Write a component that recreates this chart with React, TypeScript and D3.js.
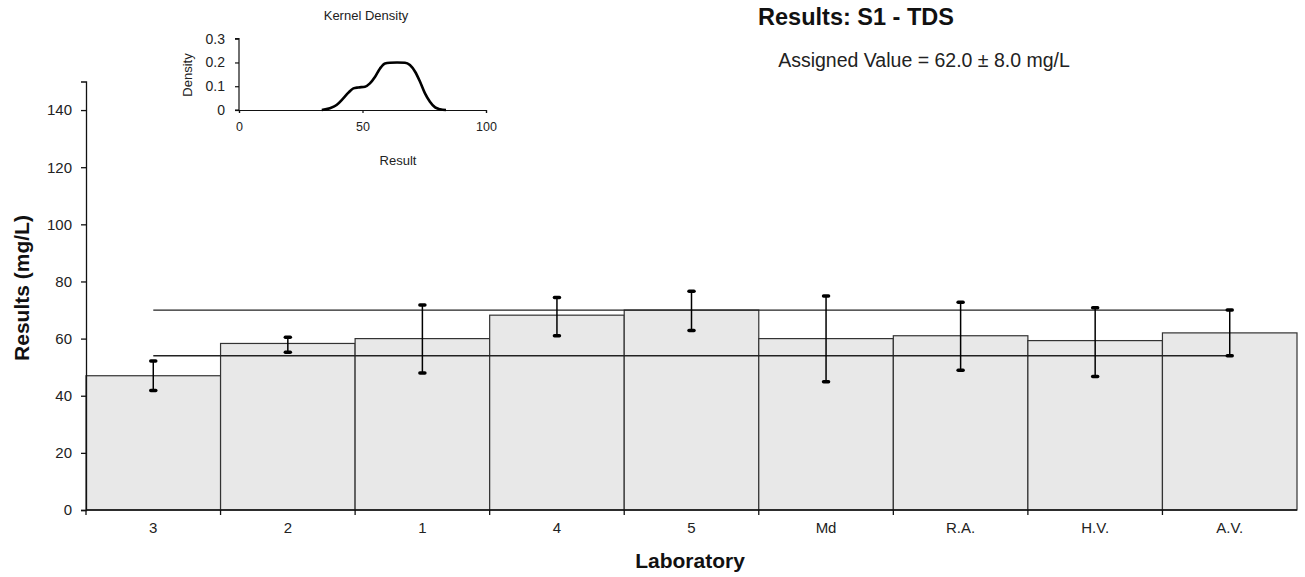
import { useEffect, useRef } from "react";
import * as d3 from "d3";

// Results per laboratory with error bars, assigned value band and a small
// kernel density inset in the upper left corner.

const labs = ["3", "2", "1", "4", "5", "Md", "R.A.", "H.V.", "A.V."];
const results = [47, 58.3, 60, 68.2, 70, 60, 61, 59.3, 62];
const errLow = [41.8, 55.2, 48, 61, 62.8, 44.9, 48.9, 46.7, 54];
const errHigh = [52.2, 60.5, 71.8, 74.4, 76.6, 74.9, 72.7, 70.8, 70];
const yTicks = [0, 20, 40, 60, 80, 100, 120, 140];

const assigned = 62.0;
const uncertainty = 8.0;

// Kernel density curve.
const kdX = [33.5, 36.8, 39.5, 42.2, 44.3, 46.3, 48.3, 51, 53, 55.1, 57.1, 59.1, 61.1, 64, 67.2, 69.2, 71.3, 73.3, 75.3, 77.3, 79.4, 81.4, 83.8];
const kdY = [0, 0.007, 0.021, 0.049, 0.073, 0.091, 0.095, 0.098, 0.112, 0.14, 0.175, 0.196, 0.199, 0.2, 0.199, 0.189, 0.161, 0.119, 0.07, 0.035, 0.011, 0.003, 0];
const kdXTicks = [0, 50, 100];
const kdYTicks = [0, 0.1, 0.2, 0.3];

const W = 1305;
const H = 577;
const FONT = "'Liberation Sans', Arial, sans-serif";
const INK = "#222";

export default function App() {
  const svgRef = useRef<SVGSVGElement>(null);

  useEffect(() => {
    const svg = d3.select(svgRef.current);
    svg.selectAll("*").remove();
    svg.attr("font-family", FONT);

    const x = d3.scaleBand<string>().domain(labs).range([86, 1297]);
    const y = d3.scaleLinear().domain([0, 150]).range([510, 81.5]);

    const rows = labs.map((l, i) => ({
      lab: l,
      v: results[i],
      lo: errLow[i],
      hi: errHigh[i],
    }));

    // Barras
    svg
      .append("g")
      .selectAll("rect")
      .data(rows)
      .join("rect")
      .attr("x", (d) => x(d.lab)!)
      .attr("y", (d) => y(d.v))
      .attr("width", x.bandwidth())
      .attr("height", (d) => y(0) - y(d.v))
      .attr("fill", "#e8e8e8")
      .attr("stroke", "#333")
      .attr("stroke-width", 1.2);

    // Assigned value ± uncertainty lines, from first to last bar centre.
    const cx0 = x(labs[0])! + x.bandwidth() / 2;
    const cx1 = x(labs[labs.length - 1])! + x.bandwidth() / 2;
    [assigned + uncertainty, assigned - uncertainty].forEach((v) => {
      svg
        .append("line")
        .attr("x1", cx0)
        .attr("x2", cx1)
        .attr("y1", y(v))
        .attr("y2", y(v))
        .attr("stroke", "#222")
        .attr("stroke-width", 1.3);
    });

    // Error bars
    const eb = svg.append("g").attr("stroke", "#000");
    rows.forEach((d) => {
      const cx = x(d.lab)! + x.bandwidth() / 2;
      eb.append("line")
        .attr("x1", cx)
        .attr("x2", cx)
        .attr("y1", y(d.lo))
        .attr("y2", y(d.hi))
        .attr("stroke-width", 1.5);
      [d.lo, d.hi].forEach((v) => {
        eb.append("line")
          .attr("x1", cx - 2.5)
          .attr("x2", cx + 2.5)
          .attr("y1", y(v))
          .attr("y2", y(v))
          .attr("stroke-width", 3.5)
          .attr("stroke-linecap", "round");
      });
    });

    // Eje Y
    svg
      .append("g")
      .attr("transform", "translate(86,0)")
      .call(d3.axisLeft(y).tickValues(yTicks).tickSize(5).tickPadding(9))
      .call((g) => g.selectAll("path,line").attr("stroke", "#111").attr("stroke-width", 1.3))
      .call((g) =>
        g.selectAll("text").attr("font-size", 15).attr("font-family", FONT).attr("fill", INK),
      );

    // Eje X: ticks on the bar edges, labels at the centres.
    const xAxis = svg.append("g").attr("transform", "translate(0,510)");
    xAxis
      .append("line")
      .attr("x1", 86)
      .attr("x2", 1297)
      .attr("stroke", "#111")
      .attr("stroke-width", 1.5);
    xAxis
      .selectAll("line.tick")
      .data(labs)
      .join("line")
      .attr("class", "tick")
      .attr("x1", (d) => x(d)!)
      .attr("x2", (d) => x(d)!)
      .attr("y1", 0)
      .attr("y2", 5)
      .attr("stroke", "#111")
      .attr("stroke-width", 1.3);
    xAxis
      .selectAll("text")
      .data(labs)
      .join("text")
      .attr("x", (d) => x(d)! + x.bandwidth() / 2)
      .attr("y", 23)
      .attr("text-anchor", "middle")
      .attr("font-size", 15)
      .attr("fill", INK)
      .text((d) => d);

    // Títulos
    svg
      .append("text")
      .attr("transform", "translate(28.5,288) rotate(-90)")
      .attr("text-anchor", "middle")
      .attr("font-size", 21)
      .attr("font-weight", "bold")
      .attr("fill", "#111")
      .text("Results (mg/L)");
    svg
      .append("text")
      .attr("x", 690)
      .attr("y", 568)
      .attr("text-anchor", "middle")
      .attr("font-size", 21)
      .attr("font-weight", "bold")
      .attr("fill", "#111")
      .text("Laboratory");
    svg
      .append("text")
      .attr("x", 856)
      .attr("y", 25)
      .attr("text-anchor", "middle")
      .attr("font-size", 23.5)
      .attr("font-weight", "bold")
      .attr("fill", "#111")
      .text("Results: S1 - TDS");
    svg
      .append("text")
      .attr("x", 924)
      .attr("y", 67)
      .attr("text-anchor", "middle")
      .attr("font-size", 19.5)
      .attr("fill", INK)
      .text(`Assigned Value = ${assigned.toFixed(1)} ± ${uncertainty.toFixed(1)} mg/L`);

    // Inset: kernel density
    const kx = d3.scaleLinear().domain([0, 100]).range([239, 486]);
    const ky = d3.scaleLinear().domain([0, 0.3]).range([110, 38.7]);

    svg
      .append("g")
      .attr("transform", "translate(239,0)")
      .call(d3.axisLeft(ky).tickValues(kdYTicks).tickSize(4).tickPadding(10).tickFormat((d) => (d === 0 ? "0" : d3.format(".1f")(d as number))))
      .call((g) => g.selectAll("path,line").attr("stroke", "#111").attr("stroke-width", 1.2))
      .call((g) => g.select(".domain").attr("d", "M-4,38.7H0V110H-4"))
      .call((g) =>
        g.selectAll("text").attr("font-size", 14).attr("font-family", FONT).attr("fill", INK),
      );
    svg
      .append("g")
      .attr("transform", "translate(0,110)")
      .call(d3.axisBottom(kx).tickValues(kdXTicks).tickSize(3).tickPadding(9))
      .call((g) => g.selectAll("path,line").attr("stroke", "#111").attr("stroke-width", 1.2))
      .call((g) =>
        g.selectAll("text").attr("font-size", 12.5).attr("font-family", FONT).attr("fill", INK),
      );

    const pts = kdX.map((v, i) => [v, kdY[i]] as [number, number]);
    svg
      .append("path")
      .datum(pts)
      .attr("fill", "none")
      .attr("stroke", "#000")
      .attr("stroke-width", 2.6)
      .attr("stroke-linejoin", "round")
      .attr(
        "d",
        d3
          .line<[number, number]>()
          .x((d) => kx(d[0]))
          .y((d) => ky(d[1]))
          .curve(d3.curveMonotoneX),
      );

    svg
      .append("text")
      .attr("x", 366)
      .attr("y", 20)
      .attr("text-anchor", "middle")
      .attr("font-size", 13)
      .attr("fill", INK)
      .text("Kernel Density");
    svg
      .append("text")
      .attr("transform", "translate(192,75) rotate(-90)")
      .attr("text-anchor", "middle")
      .attr("font-size", 13)
      .attr("fill", INK)
      .text("Density");
    svg
      .append("text")
      .attr("x", 398)
      .attr("y", 165)
      .attr("text-anchor", "middle")
      .attr("font-size", 13)
      .attr("fill", INK)
      .text("Result");
  }, []);

  return (
    <div style={{ position: "absolute", left: 0, top: 0 }}>
      <svg ref={svgRef} width={W} height={H} style={{ display: "block", background: "#fff" }} />
    </div>
  );
}
